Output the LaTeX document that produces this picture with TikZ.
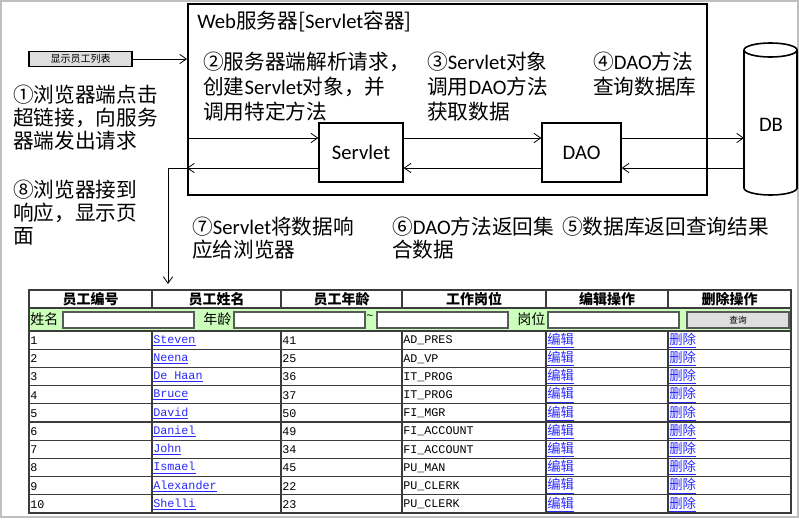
\documentclass[tikz,border=0pt]{standalone}
\usepackage{fontspec}
\setmainfont{Noto Sans CJK SC}
\newfontfamily\enfont{Carlito}
\newfontfamily\tblmono{Liberation Mono}
\usepackage{tikz}
\usetikzlibrary{arrows.meta,positioning,calc}
\definecolor{rowgreen}{RGB}{204,255,187}
\definecolor{linkblue}{RGB}{40,40,255}
\definecolor{btngray}{RGB}{222,222,222}
\definecolor{gridgray}{RGB}{60,60,60}
\newcommand{\lnk}[1]{\textcolor{linkblue}{\underline{#1}}}
\newcommand{\en}[1]{{\enfont #1}}

\begin{document}
\begin{tikzpicture}[x=0.75pt,y=-0.75pt,
  >={Straight Barb[length=5pt,width=7pt]},
  note/.style={anchor=north west, inner sep=0, align=left,
    font=\fontsize{15.5}{17}\selectfont},
  wide/.style={note, font=\fontsize{15.5}{18.75}\selectfont},
  box/.style={draw, line width=1pt, inner sep=0, font=\enfont\fontsize{15.5}{17}\selectfont},
  flow/.style={->, line width=0.6pt},
  grid/.style={gridgray, line width=1pt},
  field/.style={draw=black!65, fill=white, line width=0.8pt},
  cell/.style={anchor=west, inner sep=0, font=\tblmono\fontsize{8.8}{10}\selectfont},
  cjkcell/.style={anchor=west, inner sep=0, font=\fontsize{10}{11}\selectfont},
  hd/.style={inner sep=0, font=\bfseries\fontsize{10.5}{12}\selectfont}]

\useasboundingbox (0,0) rectangle (799,521);
% outer frame of the screenshot
\draw[black!25, line width=1.2pt] (1,1) rectangle (798,517);

% server side
\node[box, line width=1.5pt, minimum width=389.25pt, minimum height=143.25pt] (server) at (447.5,99.5) {};
\node[note] (title) at (197,11) {\en{Web}服务器[\en{Servlet}容器]};
\node[box, minimum width=63pt, minimum height=44.25pt] (servlet) at (361,152.5) {Servlet};
\node[box, minimum width=59.25pt, minimum height=44.25pt] (dao) at (581.5,152.5) {DAO};

% database drum
\draw[line width=1.2pt] (744,50) -- (744,188) arc[start angle=180, end angle=0, x radius=26.5, y radius=7] -- (797,50);
\draw[line width=1.2pt] (770.5,50) ellipse[x radius=26.5, y radius=7];
\coordinate (dbl) at (744,119);
\node[font=\enfont\fontsize{15.5}{17}\selectfont] (dblabel) at (771,125) {DB};

% browser link
\node[draw, fill=btngray, line width=0.8pt, minimum width=77.25pt, minimum height=11pt,
  inner sep=0, font=\fontsize{7.5}{8}\selectfont] (btn) at (80.5,59) {显示员工列表};

% step texts
\node[note] (s1) at (13,85) {①浏览器端点击\\超链接，向服务\\器端发出请求};
\node[wide] (s2) at (203,52) {②服务器端解析请求，\\创建\en{Servlet}对象，并\\调用特定方法};
\node[wide] (s3) at (427,52) {③\en{Servlet}对象\\调用\en{DAO}方法\\获取数据};
\node[wide] (s4) at (593,52) {④\en{DAO}方法\\查询数据库};
\node[note] (s5) at (562,217) {⑤数据库返回查询结果};
\node[note] (s6) at (392,217) {⑥\en{DAO}方法返回集\\合数据};
\node[note] (s7) at (192,217) {⑦\en{Servlet}将数据响\\应给浏览器};
\node[note] (s8) at (13,180) {⑧浏览器接到\\响应，显示页\\面};

% connectors
\coordinate (up) at (0,138);
\coordinate (dn) at (0,168);
\coordinate (tbltop) at (168,284);
\draw[flow] (btn.east) -- (btn.east -| server.west);
\draw[flow] (server.west |- up) -- (servlet.west |- up);
\draw[flow] (servlet.east |- up) -- (dao.west |- up);
\draw[flow] (dao.east |- up) -- (dbl |- up);
\draw[flow] (dbl |- dn) -- (dao.east |- dn);
\draw[flow] (dao.west |- dn) -- (servlet.east |- dn);
\draw[flow] (servlet.west |- dn) -- (server.west |- dn);
\draw[flow] (server.west |- dn) -| (tbltop);

% employee table
\fill[rowgreen] (29,308) rectangle (791,331);
\draw[grid] (29,290) rectangle (791,513);
\foreach \y in {308,331} \draw[grid] (29,\y) -- (791,\y);
\foreach \i in {1,...,9} \draw[grid] (29,{331+18.2*\i}) -- (791,{331+18.2*\i});
\foreach \x in {152,281,402,546,668} {
  \draw[grid] (\x,290) -- (\x,308);
  \draw[grid] (\x,331) -- (\x,513);
}
\foreach \x/\t [count=\i] in {90.5/员工编号,216.5/员工姓名,341.5/员工年龄,474/工作岗位,607/编辑操作,729.5/删除操作}
  \node[hd] (hd\i) at (\x,299) {\t};

% search row
\node[cjkcell, font=\fontsize{10.5}{12}\selectfont] (fname) at (30,319.5) {姓名};
\node[cjkcell, font=\fontsize{10.5}{12}\selectfont] (fage) at (203,319.5) {年龄};
\node[cjkcell, font=\fontsize{10.5}{12}\selectfont] (fjob) at (517,319.5) {岗位};
\node[cell] (ftilde) at (366,317) {\textasciitilde};
\draw[field] (63,312) rectangle (194,328);
\draw[field] (234,312) rectangle (365,328);
\draw[field] (377,312) rectangle (508,328);
\draw[field] (548,312) rectangle (679,328);
\draw[field, fill=btngray] (687,312) rectangle (789,328);
\node[inner sep=0, font=\fontsize{6.5}{7}\selectfont] (query) at (738,320) {查询};

% data rows
\foreach \n/\nm/\age/\job in {1/Steven/41/AD\_PRES, 2/Neena/25/AD\_VP, 3/De Haan/36/IT\_PROG,
    4/Bruce/37/IT\_PROG, 5/David/50/FI\_MGR, 6/Daniel/49/FI\_ACCOUNT, 7/John/34/FI\_ACCOUNT,
    8/Ismael/45/PU\_MAN, 9/Alexander/22/PU\_CLERK, 10/Shelli/23/PU\_CLERK} {
  \pgfmathsetmacro{\yy}{331+18.2*(\n-1)+9.6}
  \node[cell] (id\n) at (30,\yy) {\n};
  \node[cell] (nm\n) at (153,\yy) {\lnk{\nm}};
  \node[cell] (age\n) at (282,\yy) {\age};
  \node[cell] (job\n) at (403,\yy) {\job};
  \node[cjkcell] (ed\n) at (547,\yy) {\lnk{编辑}};
  \node[cjkcell] (del\n) at (669,\yy) {\lnk{删除}};
}

\end{tikzpicture}
\end{document}
